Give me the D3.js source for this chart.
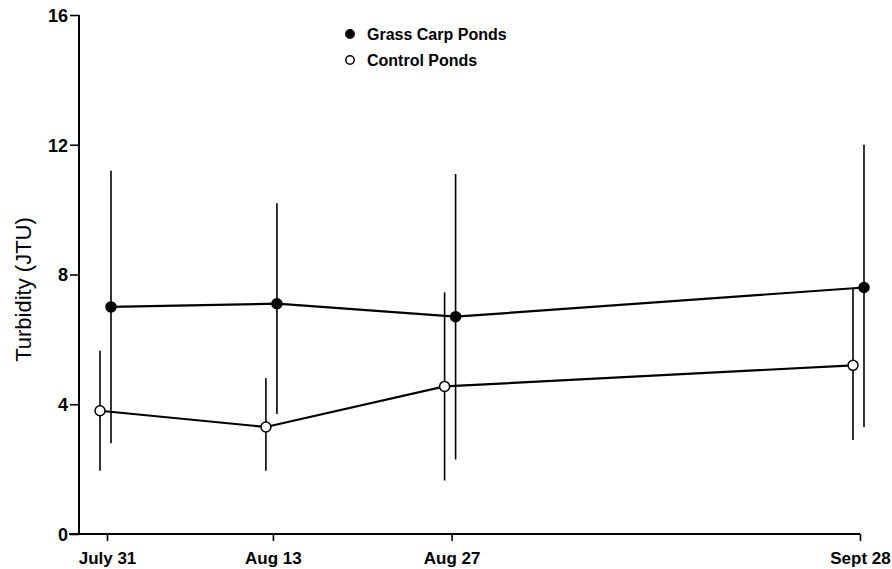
<!DOCTYPE html>
<html>
<head>
<meta charset="utf-8">
<script src="https://cdn.jsdelivr.net/npm/d3@7"></script>
<style>
  html, body { margin: 0; padding: 0; background: #fff; }
  svg { display: block; }
</style>
</head>
<body>
<svg id="chart" width="892" height="569"></svg>
<script>
// ---- data ----
const dates = ["1979-07-31", "1979-08-13", "1979-08-27", "1979-09-28"];
const dateLabels = ["July 31", "Aug 13", "Aug 27", "Sept 28"];
const yTicks = [0, 4, 8, 12, 16];

const grassMean  = [7.0, 7.1, 6.7, 7.6];
const grassLow   = [2.8, 3.7, 2.3, 3.3];
const grassHigh  = [11.2, 10.2, 11.1, 12.0];

const controlMean = [3.8, 3.3, 4.55, 5.2];
const controlLow  = [1.95, 1.95, 1.65, 2.9];
const controlHigh = [5.65, 4.8, 7.45, 7.55];

const seriesNames = ["Grass Carp Ponds", "Control Ponds"];

// ---- layout ----
const svg = d3.select("#chart");
const parse = d3.utcParse("%Y-%m-%d");
const dateObjs = dates.map(parse);

const x = d3.scaleUtc().domain([dateObjs[0], dateObjs[3]]).range([107, 860]);
const y = d3.scaleLinear().domain([0, 16]).range([534, 15]);
const axisX0 = 79;
const font = "Liberation Sans, Arial, sans-serif";

const series = [
  { name: seriesNames[0], mean: grassMean, low: grassLow, high: grassHigh, fill: "#000", dx: 4 },
  { name: seriesNames[1], mean: controlMean, low: controlLow, high: controlHigh, fill: "#fff", dx: -7 }
];

// y axis
const yAxis = svg.append("g")
  .attr("transform", `translate(${axisX0},0)`)
  .call(d3.axisLeft(y).tickValues(yTicks).tickSize(9).tickPadding(2).tickFormat(d3.format("d")));
yAxis.select(".domain").attr("stroke", "#000").attr("stroke-width", 2).attr("d", `M0,${y(16)}V${y(0)}`);
yAxis.selectAll(".tick line").attr("stroke", "#000").attr("stroke-width", 1.6);
yAxis.selectAll(".tick text")
  .attr("font-family", font)
  .attr("font-weight", "bold").attr("font-size", 18).attr("fill", "#000")
  .attr("dy", "0.36em");

// x axis
const xAxis = svg.append("g")
  .attr("transform", `translate(0,${y(0)})`)
  .call(d3.axisBottom(x).tickValues(dateObjs).tickSize(7).tickPadding(11)
    .tickFormat((d, i) => dateLabels[i]));
xAxis.select(".domain").attr("stroke", "#000").attr("stroke-width", 2)
  .attr("d", `M${axisX0 - 10},0H${x(dateObjs[3])}`);
xAxis.selectAll(".tick line").attr("stroke", "#000").attr("stroke-width", 1.6);
xAxis.selectAll(".tick text")
  .attr("font-family", font)
  .attr("font-weight", "bold").attr("font-size", 17).attr("fill", "#000");

// y label
svg.append("text")
  .attr("transform", `translate(31,${(y(0) + y(16)) / 2 + 15}) rotate(-90)`)
  .attr("text-anchor", "middle")
  .attr("font-family", font)
  .attr("font-size", 22).attr("fill", "#000")
  .text("Turbidity (JTU)");

// series
series.forEach(s => {
  const pts = dateObjs.map((d, i) => ({ x: x(d) + s.dx, m: s.mean[i], lo: s.low[i], hi: s.high[i] }));
  const g = svg.append("g");
  g.selectAll("line.err").data(pts).join("line")
    .attr("class", "err")
    .attr("x1", d => d.x).attr("x2", d => d.x)
    .attr("y1", d => y(d.lo)).attr("y2", d => y(d.hi))
    .attr("stroke", "#000").attr("stroke-width", 1.6);
  g.append("path").datum(pts)
    .attr("d", d3.line().x(d => d.x).y(d => y(d.m)))
    .attr("fill", "none").attr("stroke", "#000").attr("stroke-width", 2.2);
  s.g = g; s.pts = pts;
});
series.forEach(s => {
  s.g.selectAll("circle").data(s.pts).join("circle")
    .attr("cx", d => d.x).attr("cy", d => y(d.m)).attr("r", 5)
    .attr("fill", s.fill).attr("stroke", "#000").attr("stroke-width", 1.5);
});

// legend
const legend = svg.append("g").attr("transform", "translate(350,34)");
series.forEach((s, i) => {
  const row = legend.append("g").attr("transform", `translate(0,${i * 26})`);
  row.append("circle").attr("r", 4.2).attr("fill", s.fill).attr("stroke", "#000").attr("stroke-width", 1.5);
  row.append("text").attr("x", 17).attr("dy", "0.35em")
    .attr("font-family", font)
    .attr("font-weight", "bold").attr("font-size", 16).attr("fill", "#000")
    .text(s.name);
});
</script>
</body>
</html>
